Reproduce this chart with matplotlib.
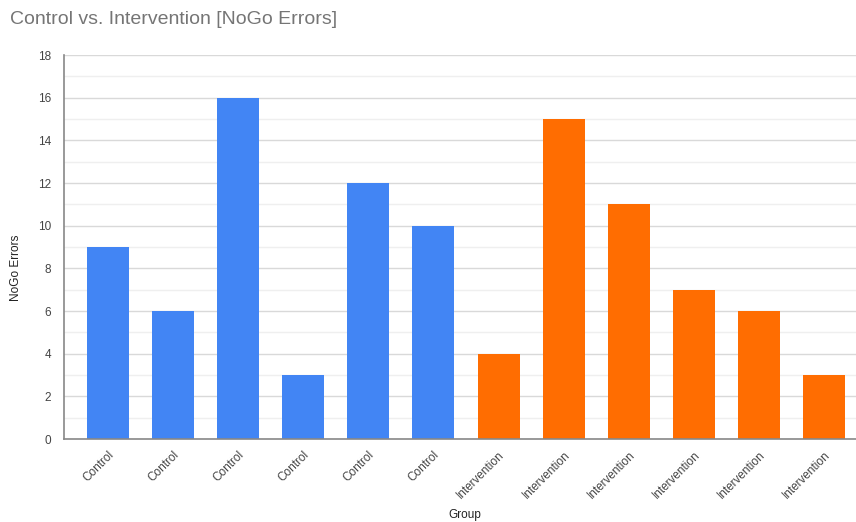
import matplotlib
matplotlib.use("Agg")
import matplotlib.pyplot as plt
import numpy as np

groups = ["Control"] * 6 + ["Intervention"] * 6
values = [9, 6, 16, 3, 12, 10, 4, 15, 11, 7, 6, 3]
colors = ["#4285F4"] * 6 + ["#FF6D01"] * 6
yticks = [0, 2, 4, 6, 8, 10, 12, 14, 16, 18]

plt.rcParams['font.family'] = ['Liberation Sans', 'DejaVu Sans']

fig = plt.figure(figsize=(8.56, 5.22), dpi=100)
ax = fig.add_axes([0.0742, 0.159, 0.9258, 0.7356])

x = np.arange(len(values))
ax.bar(x, values, width=0.645, color=colors, zorder=3)

ax.set_xlim(-0.68, len(values) - 1 + 0.49)
ax.set_ylim(0, 18)
ax.set_yticks(yticks)
ax.set_yticks(np.arange(1, 18, 2), minor=True)
ax.yaxis.grid(True, which='major', color='#d9d9d9', linewidth=1, zorder=0)
ax.yaxis.grid(True, which='minor', color='#efefef', linewidth=1, zorder=0)
ax.tick_params(axis='y', which='both', length=0, labelsize=8.5, labelcolor='#444444', pad=9)
ax.tick_params(axis='x', length=0, labelsize=8.5, labelcolor='#444444', pad=7)

ax.set_xticks(x)
ax.set_xticklabels(groups, rotation=45, ha='right', rotation_mode='anchor')

for s in ['top', 'right']:
    ax.spines[s].set_visible(False)
for s in ['left', 'bottom']:
    ax.spines[s].set_color('#888888')
    ax.spines[s].set_linewidth(1.2)
    ax.spines[s].set_zorder(4)

ax.set_ylabel("NoGo Errors", fontsize=8.5, color='#222222')
ax.set_xlabel("Group", fontsize=8.5, color='#222222')
ax.xaxis.label.set_va('center')
ax.yaxis.label.set_va('center')
ax.xaxis.set_label_coords(0.507, -0.198)
ax.yaxis.set_label_coords(-0.0595, 0.445)

fig.text(0.012, 0.962, "Control vs. Intervention [NoGo Errors]", fontsize=14,
         color='#757575', ha='left', va='center')

fig.savefig("out.png", dpi=100)
